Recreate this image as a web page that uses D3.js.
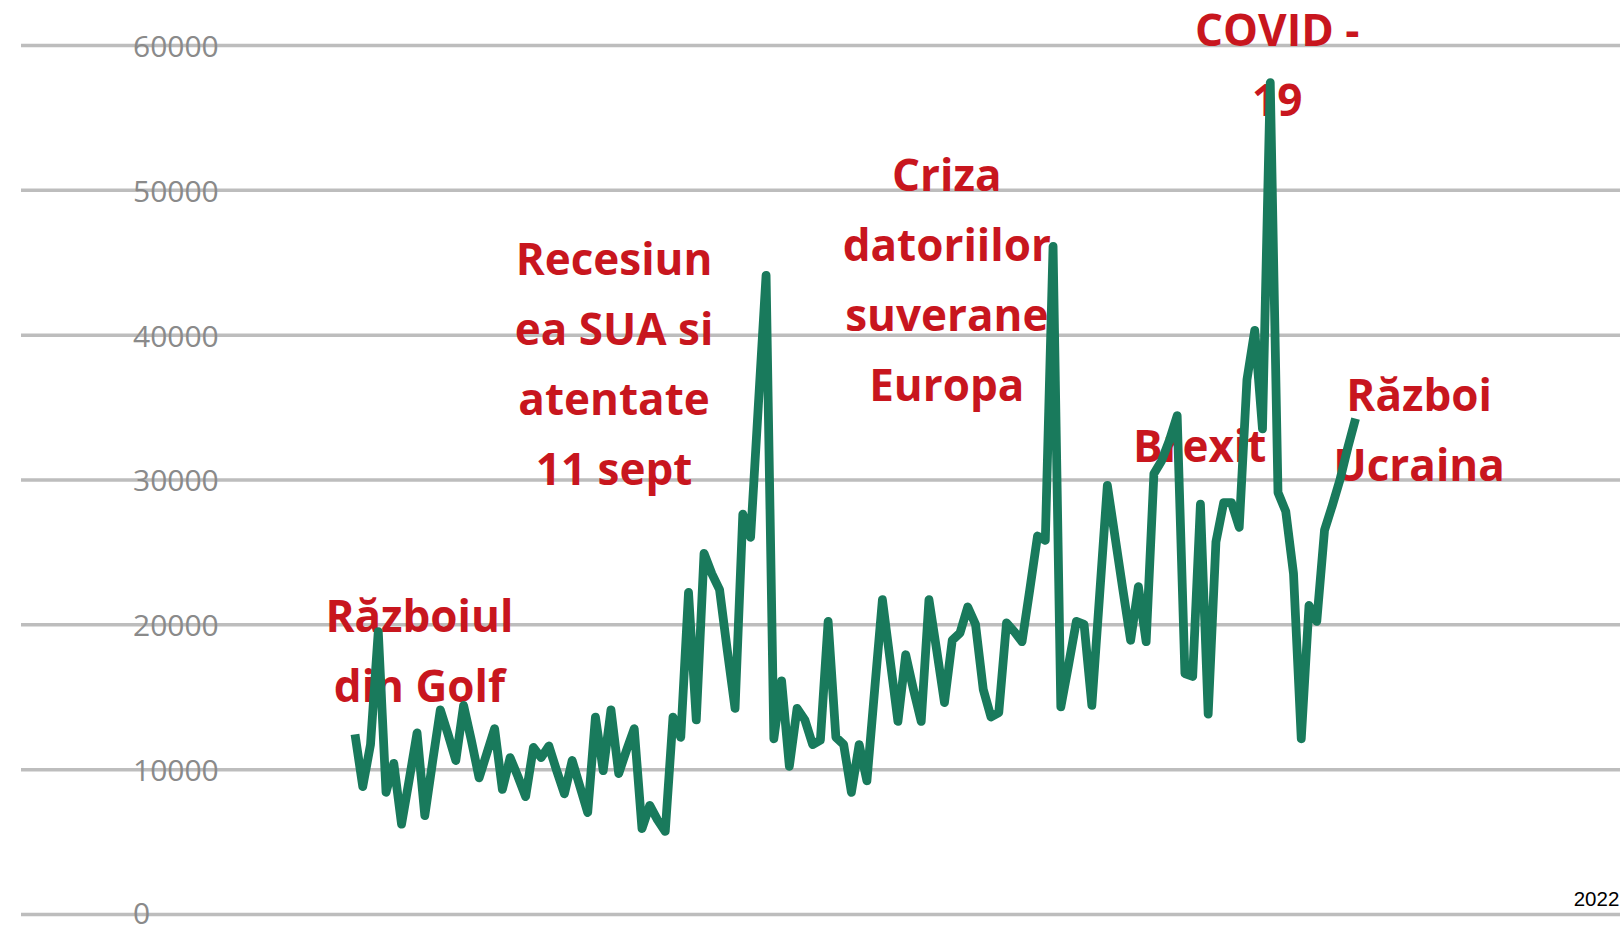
<!DOCTYPE html>
<html>
<head>
<meta charset="utf-8">
<script src="https://cdn.jsdelivr.net/npm/d3@7"></script>
<style>
  html, body { margin: 0; padding: 0; background: #fff; }
  svg { display: block; }
  .grid line { stroke: #bdbdbd; stroke-width: 3.5; }
  .grid text { font-family: "Open Sans", sans-serif; font-size: 30px; fill: #8a8a8a; }
  .axis--x text { font-family: "Liberation Sans", Arial, sans-serif; font-size: 20.5px; fill: #000; }
  .note { font-family: "Open Sans", sans-serif; font-weight: 700; font-size: 44px; fill: #c8161e; }
  .line { fill: none; stroke: #197a5c; stroke-width: 8.8; stroke-linejoin: round; }
</style>
</head>
<body>
<svg width="1620" height="927"></svg>
<script>
// series, one value per period
const values = [
  12400, 8800, 11700, 19500, 8400, 10400, 6200, 9300, 12500, 6800,
  10500, 14100, 12400, 10600, 14400, 12000, 9400, 11100, 12800, 8600,
  10800, 9500, 8100, 11500, 10800, 11600, 9900, 8300, 10600, 8800,
  7000, 13600, 9900, 14100, 9700, 11300, 12800, 5900, 7500, 6500,
  5700, 13600, 12200, 22200, 13400, 24900, 23500, 22400, 18200, 14200,
  27600, 26000, 35100, 44100, 12100, 16100, 10200, 14200, 13400, 11700,
  12000, 20200, 12200, 11700, 8400, 11700, 9200, 15500, 21700, 17500,
  13300, 17900, 15500, 13300, 21700, 18200, 14600, 18900, 19400, 21200,
  20000, 15500, 13600, 13900, 20100, 19500, 18800, 22400, 26100, 25800,
  46100, 14300, 17200, 20200, 20000, 14400, 22000, 29600, 26000, 22400,
  18900, 22600, 18800, 30400, 31300, 32700, 34400, 16600, 16400, 28300,
  13800, 25700, 28400, 28400, 26700, 36900, 40300, 33500, 57400, 29100,
  27800, 23500, 12100, 21300, 20200, 26500, 28200, 30000, 32200, 34200
];

const yTicks = [0, 10000, 20000, 30000, 40000, 50000, 60000];
const xTickLabels = ["2022"];
const xTickIndex = [160];

// annotations: text lines and their anchor in data space (period index, value)
const noteTexts = [
  ["Războiul", "din Golf"],
  ["Recesiun", "ea SUA si", "atentate", "11 sept"],
  ["Criza", "datoriilor", "suverane", "Europa"],
  ["Brexit"],
  ["COVID -", "19"],
  ["Război", "Ucraina"]
];
const noteIndex = [8.3, 33.4, 76.3, 108.9, 118.9, 137.2];
const noteValue = [19470, 44100, 49920, 31210, 59940, 34730];

const svg = d3.select("svg");

const xScale = d3.scaleLinear().domain([0, 160]).range([355, 1596]);
const yScale = d3.scaleLinear().domain([0, 60000]).range([914, 45]);

// horizontal gridlines with the value labels sitting on them
const grid = svg.append("g")
  .attr("class", "grid")
  .attr("transform", "translate(21, 0)")
  .call(d3.axisRight(yScale).tickValues(yTicks).tickSize(1599).tickFormat(d3.format("d")));
grid.select(".domain").remove();
grid.selectAll("text")
  .attr("x", 112)
  .attr("dy", d => d === 0 ? "0.3em" : "0.38em")
  .attr("text-anchor", "start");

// single category label at the right end
const xAxis = svg.append("g")
  .attr("class", "axis axis--x")
  .attr("transform", "translate(0, 914)")
  .call(d3.axisBottom(xScale).tickValues(xTickIndex).tickSize(0).tickFormat((d, i) => xTickLabels[i]));
xAxis.select(".domain").remove();
xAxis.selectAll("text")
  .attr("y", -15)
  .attr("dy", "0.35em");

// event labels
const lineGap = 70;
noteTexts.forEach((lines, k) => {
  const t = svg.append("text")
    .attr("class", "note")
    .attr("text-anchor", "middle")
    .attr("x", xScale(noteIndex[k]))
    .attr("y", yScale(noteValue[k]));
  lines.forEach((s, j) => {
    t.append("tspan")
      .attr("x", xScale(noteIndex[k]))
      .attr("y", yScale(noteValue[k]) + j * lineGap)
      .text(s);
  });
});

// the series line, drawn over the labels
const line = d3.line()
  .x((d, i) => xScale(i))
  .y(d => yScale(d));

svg.append("path")
  .datum(values)
  .attr("class", "line")
  .attr("d", line);
</script>
</body>
</html>
